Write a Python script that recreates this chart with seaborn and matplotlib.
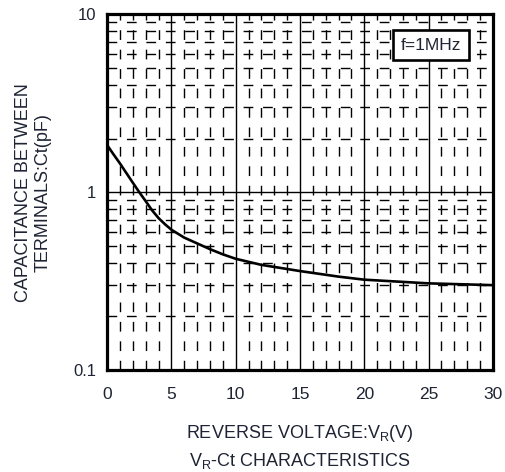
import numpy as np
import pandas as pd
import matplotlib
matplotlib.use("Agg")
import matplotlib.pyplot as plt
import seaborn as sns
from matplotlib.ticker import FixedLocator, NullFormatter

# ========================= Curve =========================
vr = [0, 0.5, 1, 1.5, 2, 2.5, 3, 3.5, 4, 4.5, 5, 6, 7, 8, 9, 10, 12, 15, 18, 20, 25, 30]
ct = [1.84, 1.63, 1.45, 1.28, 1.13, 1.00, 0.89, 0.79, 0.715, 0.66, 0.615, 0.555, 0.515,
      0.478, 0.447, 0.422, 0.39, 0.36, 0.335, 0.322, 0.307, 0.30]

x_ticks = [0, 5, 10, 15, 20, 25, 30]
y_ticks = [0.1, 1, 10]
y_tick_labels = ["0.1", "1", "10"]

df = pd.DataFrame({"VR": vr, "Ct": ct})

sns.set_theme(style="white")
plt.rcParams["font.family"] = ["Liberation Sans", "DejaVu Sans"]
plt.rcParams["mathtext.default"] = "regular"

TXT = "#1e2433"

fig = plt.figure(figsize=(5.05, 4.72), dpi=100)
ax = fig.add_axes([0.212, 0.216, 0.764, 0.754])

sns.lineplot(data=df, x="VR", y="Ct", color="black", linewidth=1.9, ax=ax)

ax.set_yscale("log")
ax.set_xlim(0, 30)
ax.set_ylim(0.1, 10)

# major / minor grid
ax.xaxis.set_major_locator(FixedLocator(x_ticks))
ax.xaxis.set_minor_locator(FixedLocator([v for v in range(31) if v % 5]))
ax.yaxis.set_major_locator(FixedLocator(y_ticks))
ax.yaxis.set_minor_locator(FixedLocator([m * d for d in (0.1, 1) for m in range(2, 10)]))
ax.yaxis.set_minor_formatter(NullFormatter())
ax.set_yticklabels(y_tick_labels)
ax.grid(which="major", color="black", linewidth=1.0, linestyle="-")
ax.grid(which="minor", color="black", linewidth=1.0, linestyle=(0, (7, 7)))
ax.set_axisbelow(True)
ax.tick_params(which="both", length=0, colors=TXT)
ax.tick_params(axis="x", labelsize=12.5, pad=12)
ax.tick_params(axis="y", labelsize=12, pad=8)

for s in ax.spines.values():
    s.set_visible(True)
    s.set_color("black")
    s.set_linewidth(2.3)

ax.set_xlabel("REVERSE VOLTAGE:V$_{R}$(V)\nV$_{R}$-Ct CHARACTERISTICS",
              fontsize=13, color=TXT, labelpad=15, linespacing=1.5)
ax.set_ylabel("CAPACITANCE BETWEEN\nTERMINALS:Ct(pF)",
              fontsize=13, color=TXT, labelpad=15, linespacing=1.25)
if ax.get_legend():
    ax.get_legend().remove()

ax.text(0.839, 0.913, "f=1MHz", transform=ax.transAxes, fontsize=12.5,
        ha="center", va="center", color=TXT,
        bbox=dict(boxstyle="square,pad=0.45", fc="white", ec="black", lw=1.9))

fig.savefig("out.png", dpi=100)
